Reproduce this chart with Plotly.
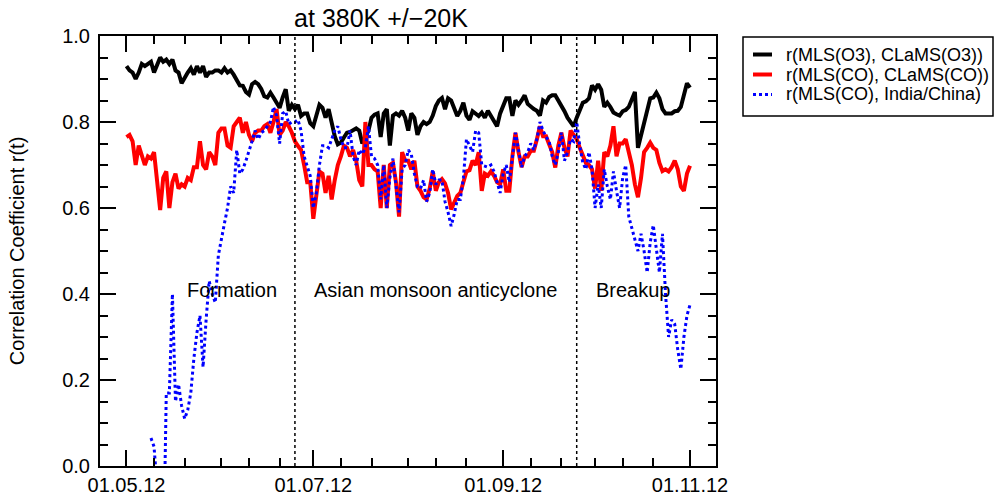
import plotly.graph_objects as go
import pandas as pd

# ---------------- data ----------------
dates = pd.date_range("2012-05-01", "2012-11-01", freq="D").strftime("%Y-%m-%d").tolist()

o3_mls_clams = [
    0.93, 0.92, 0.915, 0.90, 0.915, 0.935, 0.93, 0.935, 0.94, 0.915,
    0.935, 0.95, 0.94, 0.945, 0.935, 0.945, 0.92, 0.915, 0.89, 0.905,
    0.915, 0.925, 0.91, 0.93, 0.915, 0.93, 0.905, 0.915, 0.915, 0.92,
    0.92, 0.915, 0.925, 0.915, 0.92, 0.91, 0.895, 0.885,
    0.884, 0.87, 0.864, 0.888, 0.893, 0.888, 0.877, 0.86, 0.857, 0.868,
    0.857, 0.845, 0.833, 0.857, 0.876, 0.826, 0.84, 0.83, 0.84, 0.814,
    0.82, 0.82, 0.797, 0.79, 0.814, 0.84, 0.833, 0.81, 0.83, 0.797,
    0.767, 0.748, 0.752, 0.764, 0.775, 0.777, 0.78, 0.785,
    0.78, 0.75, 0.765, 0.78, 0.81, 0.817, 0.82, 0.765, 0.82, 0.83,
    0.745, 0.815, 0.82, 0.815, 0.826, 0.81, 0.78, 0.82, 0.81, 0.77,
    0.79, 0.80, 0.795, 0.80, 0.815, 0.837, 0.85, 0.856, 0.83, 0.855,
    0.85, 0.833, 0.814, 0.826, 0.845, 0.815, 0.805, 0.825,
    0.818, 0.814, 0.822, 0.81, 0.826, 0.815, 0.80, 0.79, 0.82, 0.84,
    0.855, 0.855, 0.814, 0.85, 0.84, 0.85, 0.862, 0.842, 0.835, 0.83,
    0.826, 0.815, 0.85, 0.845, 0.858, 0.862, 0.862, 0.85, 0.84, 0.825,
    0.81, 0.80, 0.79, 0.81, 0.83, 0.845, 0.848, 0.855, 0.885,
    0.875, 0.888, 0.875, 0.835, 0.845, 0.835, 0.822, 0.818, 0.815, 0.825,
    0.828, 0.835, 0.853, 0.87, 0.74, 0.77, 0.80, 0.83, 0.855, 0.857,
    0.868, 0.855, 0.83, 0.82, 0.82, 0.82, 0.825, 0.826, 0.835, 0.86,
    0.89, 0.88,
]

co_mls_clams = [
    0.765, 0.77, 0.755, 0.70, 0.745, 0.72, 0.70, 0.72, 0.715, 0.73,
    0.66, 0.595, 0.67, 0.685, 0.60, 0.66, 0.68, 0.645, 0.655, 0.65,
    0.67, 0.665, 0.695, 0.695, 0.755, 0.70, 0.69, 0.73, 0.72, 0.70,
    0.775, 0.785, 0.785, 0.745, 0.74, 0.79, 0.80, 0.81,
    0.775, 0.80, 0.77, 0.755, 0.775, 0.78, 0.78, 0.79, 0.795, 0.775,
    0.80, 0.83, 0.77, 0.78, 0.80, 0.79, 0.775, 0.755, 0.744, 0.735,
    0.70, 0.66, 0.66, 0.575, 0.63, 0.685, 0.68, 0.635, 0.675, 0.62,
    0.665, 0.70, 0.72, 0.745, 0.74, 0.72, 0.735, 0.71,
    0.665, 0.65, 0.80, 0.70, 0.70, 0.69, 0.685, 0.60, 0.70, 0.60,
    0.70, 0.705, 0.66, 0.58, 0.73, 0.71, 0.71, 0.69, 0.71, 0.65,
    0.64, 0.625, 0.62, 0.645, 0.685, 0.64, 0.66, 0.667, 0.657, 0.635,
    0.597, 0.612, 0.628, 0.635, 0.66, 0.685, 0.688, 0.71,
    0.70, 0.73, 0.64, 0.68, 0.675, 0.685, 0.675, 0.66, 0.655, 0.69,
    0.64, 0.64, 0.72, 0.775, 0.73, 0.695, 0.72, 0.72, 0.733, 0.733,
    0.76, 0.79, 0.767, 0.767, 0.748, 0.73, 0.694, 0.745, 0.775, 0.74,
    0.72, 0.78, 0.77, 0.76, 0.74, 0.72, 0.705, 0.70, 0.69,
    0.645, 0.71, 0.64, 0.73, 0.72, 0.745, 0.79, 0.72, 0.75, 0.75,
    0.76, 0.73, 0.70, 0.655, 0.625, 0.67, 0.73, 0.74, 0.752, 0.74,
    0.735, 0.705, 0.686, 0.69, 0.685, 0.695, 0.71, 0.69, 0.65, 0.64,
    0.68, 0.698,
]

co_mls_india_china = [None] * 8 + [
    0.065, 0.045, -0.05, -0.08, -0.25, 0.17, 0.17, 0.40, 0.15, 0.19,
    0.14, 0.11, 0.13, 0.17, 0.25, 0.31, 0.35, 0.23, 0.34, 0.43,
    0.40, 0.38, 0.49, 0.53, 0.565, 0.60, 0.65, 0.635, 0.735, 0.68,
    0.69, 0.71, 0.73, 0.755, 0.78, 0.76, 0.775, 0.78, 0.79, 0.80,
    0.835, 0.815, 0.75, 0.82, 0.825, 0.795, 0.80, 0.80, 0.805, 0.78,
    0.72, 0.70, 0.675, 0.60, 0.635, 0.70, 0.745, 0.745, 0.74, 0.76,
    0.78, 0.79, 0.76, 0.74, 0.74, 0.78, 0.72, 0.70,
    0.735, 0.725, 0.74, 0.79, 0.72, 0.715, 0.70, 0.62, 0.70, 0.60,
    0.67, 0.715, 0.655, 0.59, 0.69, 0.70, 0.735, 0.725, 0.68, 0.65,
    0.645, 0.665, 0.615, 0.635, 0.69, 0.655, 0.665, 0.665, 0.615, 0.59,
    0.558, 0.585, 0.62, 0.62, 0.67, 0.76, 0.745, 0.73,
    0.78, 0.775, 0.70, 0.698, 0.695, 0.70, 0.685, 0.66, 0.635, 0.68,
    0.70, 0.66, 0.72, 0.775, 0.735, 0.695, 0.72, 0.73, 0.75, 0.735,
    0.76, 0.80, 0.78, 0.765, 0.755, 0.72, 0.70, 0.73, 0.775, 0.71,
    0.73, 0.76, 0.755, 0.80, 0.745, 0.705, 0.69, 0.73, 0.69,
    0.60, 0.655, 0.60, 0.69, 0.65, 0.62, 0.685, 0.64, 0.60, 0.67,
    0.70, 0.58, 0.555, 0.53, 0.50, 0.54, 0.50, 0.45, 0.52, 0.56,
    0.50, 0.45, 0.54, 0.40, 0.30, 0.34, 0.33, 0.27, 0.225, 0.30,
    0.35, 0.375,
]

series_names = [
    "r(MLS(O3), CLaMS(O3))",
    "r(MLS(CO), CLaMS(CO))",
    "r(MLS(CO), India/China)",
]
series_colors = ["#000000", "#ff0000", "#0000ff"]
series_dash = ["solid", "solid", "dot"]
series_width = [4, 4, 3]

x_tick_vals = ["2012-05-01", "2012-07-01", "2012-09-01", "2012-11-01"]
x_tick_text = ["01.05.12", "01.07.12", "01.09.12", "01.11.12"]
x_minor_vals = ["2012-05-10", "2012-05-20", "2012-06-01", "2012-06-10", "2012-06-20",
                "2012-07-10", "2012-07-20", "2012-08-01", "2012-08-10", "2012-08-20",
                "2012-09-10", "2012-09-20", "2012-10-01", "2012-10-10", "2012-10-20"]
phase_bounds = ["2012-06-25", "2012-09-25"]
phase_labels = ["Formation", "Asian monsoon anticyclone", "Breakup"]
phase_label_x = ["2012-06-04 12:00", "2012-08-09 19:00", "2012-10-13 12:00"]

FONT = "Liberation Sans, Arial, Helvetica, sans-serif"

# plot-area geometry in pixels (for paper-coordinate legend placement)
W, H = 995, 500
ML, MR, MT, MB = 100, 279, 36, 34
PW, PH = W - ML - MR, H - MT - MB


def px_x(p):
    return (p - ML) / PW


def px_y(p):
    return (H - MB - p) / PH


fig = go.Figure()
for ys, nm, col, ds, wd in zip([o3_mls_clams, co_mls_clams, co_mls_india_china],
                               series_names, series_colors, series_dash, series_width):
    fig.add_trace(go.Scatter(x=dates, y=ys, mode="lines", name=nm,
                             line=dict(color=col, width=wd, dash=ds),
                             connectgaps=False, showlegend=False))

for xb in phase_bounds:
    fig.add_shape(type="line", xref="x", yref="paper", x0=xb, x1=xb, y0=0, y1=1,
                  line=dict(color="black", width=1.5, dash="dot"))

for lbl, lx in zip(phase_labels, phase_label_x):
    fig.add_annotation(x=lx, y=0.41, xref="x", yref="y", text=lbl, showarrow=False,
                       font=dict(size=20, color="black", family=FONT))

# legend box (drawn in paper coordinates, outside the plot area)
fig.add_shape(type="rect", xref="paper", yref="paper",
              x0=px_x(743), x1=px_x(993), y0=px_y(116), y1=px_y(37),
              line=dict(color="black", width=1.5), fillcolor="white", layer="above")
row_y = [54.5, 74.5, 94.5]
for ry, nm, col, ds, wd in zip(row_y, series_names, series_colors, series_dash, series_width):
    fig.add_shape(type="line", xref="paper", yref="paper",
                  x0=px_x(753), x1=px_x(772), y0=px_y(ry), y1=px_y(ry),
                  line=dict(color=col, width=wd, dash=ds), layer="above")
    fig.add_annotation(xref="paper", yref="paper", x=px_x(784), y=px_y(ry),
                       xanchor="left", yanchor="middle", text=nm, showarrow=False,
                       font=dict(size=18, family=FONT, color="black"))

fig.update_layout(
    width=W, height=H,
    margin=dict(l=ML, r=MR, t=MT, b=MB, autoexpand=False),
    paper_bgcolor="white", plot_bgcolor="white",
    font=dict(family=FONT, size=20, color="black"),
    title=dict(text="at 380K +/\u221220K", x=381 / W, xref="container", xanchor="center",
               y=1 - 18 / H, yref="container", yanchor="middle",
               font=dict(size=25, family=FONT, color="black")),
    showlegend=False,
)

fig.update_xaxes(
    type="date", range=["2012-04-22 08:31", "2012-11-09 11:31"], automargin=False,
    tickmode="array", tickvals=x_tick_vals, ticktext=x_tick_text,
    ticks="inside", ticklen=16, tickwidth=1.5, tickcolor="black",
    showline=True, linecolor="black", linewidth=2, mirror="allticks",
    showgrid=False, zeroline=False,
    tickfont=dict(size=20, family=FONT, color="black"),
    minor=dict(tickmode="array", tickvals=x_minor_vals, ticks="inside", ticklen=8,
               tickwidth=1.5, tickcolor="black", showgrid=False),
)

fig.update_yaxes(
    range=[0, 1], tickmode="linear", tick0=0, dtick=0.2, tickformat=".1f", automargin=False,
    ticks="inside", ticklen=16, tickwidth=1.5, tickcolor="black",
    showline=True, linecolor="black", linewidth=2, mirror="allticks",
    showgrid=False, zeroline=False,
    tickfont=dict(size=20, family=FONT, color="black"),
    ticklabelstandoff=4,
    minor=dict(dtick=0.05, tick0=0, ticks="inside", ticklen=8, tickwidth=1.5,
               tickcolor="black", showgrid=False),
    title=dict(text="Correlation Coefficient r(t)", standoff=32,
               font=dict(size=20, family=FONT, color="black")),
)

fig.write_html(
    "out.html",
    config={"displayModeBar": False},
    post_script="document.body.style.margin='0px';document.body.style.overflow='hidden';",
)
